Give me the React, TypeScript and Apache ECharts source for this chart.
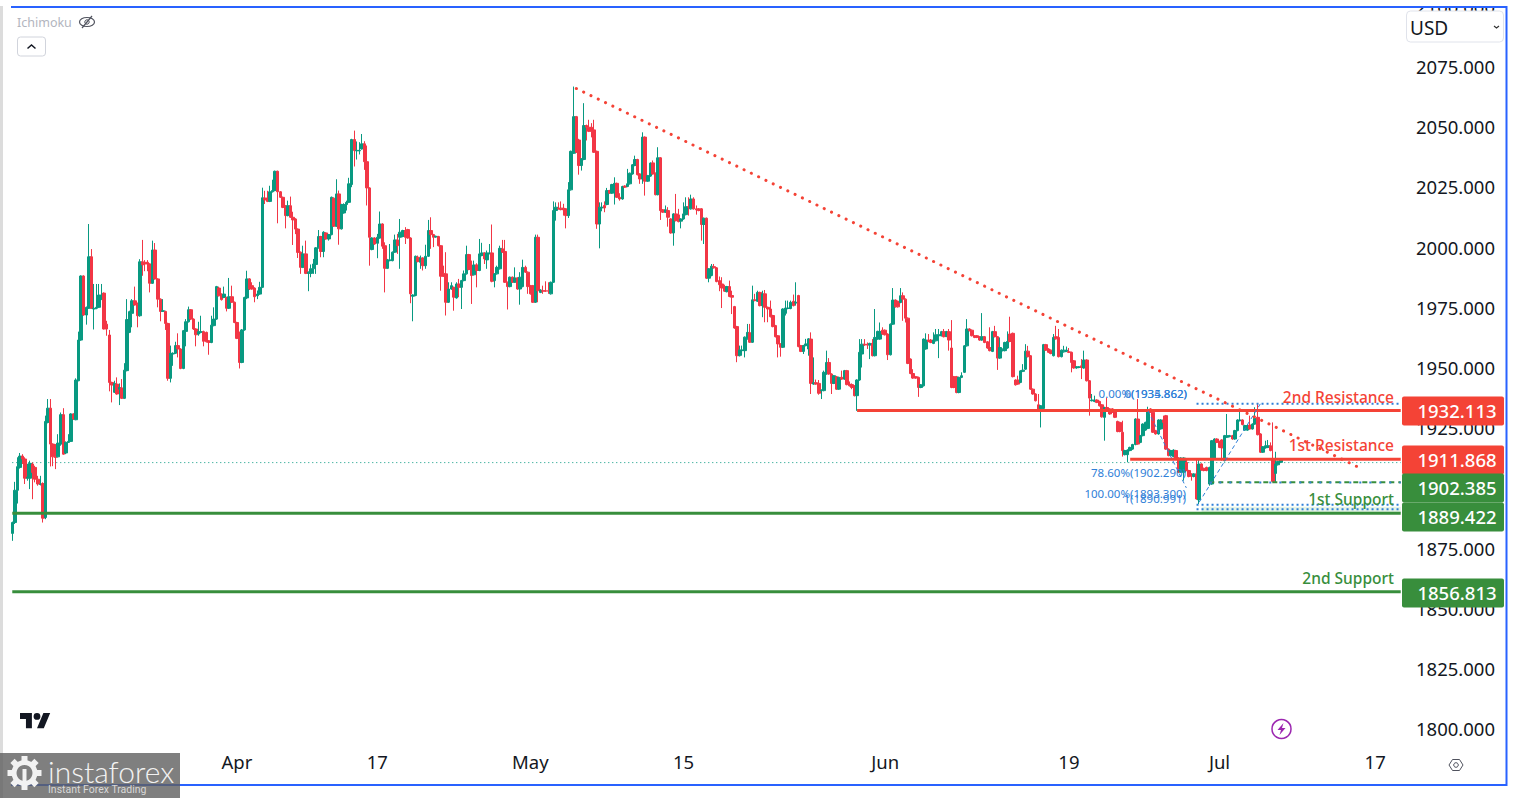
import React, { useEffect, useRef } from "react";
import * as echarts from "echarts";

// XAUUSD 4H candles: [open, close, low, high]
const marchCandles = [
[1881.1,1885.6,1878,1886],[1885.6,1899,1885,1902.5],[1899,1908.8,1893.5,1912.7],[1908.5,1913.2,1908,1914.5],[1913.2,1912,1909.9,1914],[1912,1904,1901.6,1912.7],[1904,1904.5,1903,1910],[1904,1910.2,1899.5,1911.3],[1909.9,1906.4,1895.3,1910.6],[1908.5,1903.6,1902.3,1909.2],
[1903.6,1901.6,1900.9,1905],[1901.4,1901.6,1901,1905],[1901.8,1887.4,1885.6,1902.3],[1887.7,1927.6,1887,1930],[1927.2,1933.1,1926.8,1936.9],[1933.1,1918.2,1908.9,1936.9],[1918.2,1912.9,1909,1918.5],[1912.9,1912.6,1907.8,1918.2],[1912.9,1918.6,1912.6,1922.3],[1918.2,1930.4,1917.5,1931.3],
[1930.4,1914,1913.8,1933.1],[1914.5,1918.9,1914,1919.3],[1918.9,1919.3,1918.7,1922.3],[1919.3,1930.7,1919.1,1931],[1930.7,1928.6,1928.2,1931],[1928.3,1944.8,1928.1,1945.5],[1944.5,1961.4,1944.3,1964.9],[1961.4,1988,1961.1,1988.3],[1988,1971.8,1971.5,1988.3],[1971.8,1975,1967.8,1975.3],
[1974.6,1996,1974.3,2009.6],[1996,1974.6,1974.3,1999.2],[1974.3,1974.6,1965.8,1984.7],[1974.6,1975,1974.2,1984.7],[1975,1980.1,1974.7,1984.7],[1978.4,1980.1,1978,1984.7],[1980.9,1966,1965.8,1981.2],[1968,1966,1963.2,1969.4],[1963.5,1943.8,1940.1,1965.6],[1943.8,1942.7,1935.5,1944.1],
[1939.7,1943.4,1939.4,1944.5],[1943.1,1939,1938.7,1945.9],[1941,1941.7,1934.4,1943.4],[1941.5,1937.2,1936.9,1945.2],[1937.2,1948.9,1936.9,1951.8],[1948.7,1969.9,1948.4,1978.4],[1964.6,1973.2,1964.3,1973.6],[1972.5,1977.7,1966.7,1978.4],[1977.7,1976,1975.7,1983.6],[1976,1971.5,1966.7,1977],
[1971.5,1993.9,1971.1,1995],[1993.9,1992.6,1988.1,2003],[1993.7,1993,1990,1994.6],[1993.7,1993,1990,1994.6],[1993,1985,1981.2,1993.3],[1985,1998.8,1984.7,2002.7],[1998.8,1986.8,1986.5,2001.7],[1986.8,1978.4,1975,1987.1],[1978.4,1973.3,1969.2,1978.7],[1973.3,1973.6,1973.1,1978.4],
[1973.3,1968.3,1965.6,1973.6],[1968.3,1945.5,1944.5,1968.6],[1945.5,1955.9,1943.8,1959.1],[1955.6,1955.9,1950.7,1956.3],[1955.9,1959.1,1955.6,1960.7],[1959.1,1957.7,1954.2,1964.2],[1957.7,1949.6,1949.3,1958],[1949.6,1965.3,1949.3,1965.6],[1965,1969,1958.8,1970.1],[1969,1974,1968.7,1975.3],
[1974,1970.1,1969.7,1974.3],[1970.1,1966,1965.6,1970.4],[1966,1963.6,1958.8,1966.3],[1963.9,1964.9,1963.2,1969],[1964.6,1964.9,1964.2,1971.5],[1964.9,1960.9,1958.8,1965.3],[1964.6,1960.7,1960.4,1964.9],[1961.1,1960.4,1955.3,1961.4],[1960.4,1967.6,1960.1,1971.5],[1967.4,1970.1,1967.1,1975],
[1970.1,1983.6,1969.8,1983.9],[1983,1979.8,1979.5,1983.6],[1980.5,1978.2,1977.8,1980.8],[1979.1,1980.5,1978.8,1983.6],[1979.1,1974.6,1973.3,1979.4],[1974.6,1979.4,1974.3,1987.2],[1979.4,1977.1,1976.8,1984],[1977.1,1968.7,1968.4,1977.4],
];
const aprilCandles = [
[1968.7,1962.1,1961.8,1969],[1964.6,1952.1,1949.6,1964.9],[1952.1,1965.6,1951.8,1966],[1965.6,1979.1,1965.3,1979.4],[1978.9,1986.8,1978.4,1990.2],[1986.8,1982.6,1982.2,1987.1],[1984,1982.6,1982.3,1985.4],[1983,1979.4,1977.1,1983.3],[1979.8,1980.5,1978.4,1982],[1980.5,1983.3,1980.2,1985.6],
[1983.3,2020.5,1983,2024.7],[2020.4,2019.6,2017.9,2023.4],[2020.4,2019,2018.7,2023.4],[2019,2023,2018.7,2025.5],[2023,2023.5,2022.7,2028],[2023.5,2031.5,2023.2,2031.8],[2031.5,2023,2009.9,2031.8],[2023,2020.7,2020.4,2023.3],[2020.7,2016.5,2016.2,2021],[2017.2,2013.1,2007.8,2017.5],
[2013.1,2017.2,2012.8,2019.3],[2017.2,2012.4,2012.1,2021],[2012.4,2011.3,2000.9,2014.7],[2011.7,2007.5,2005.4,2012],[2007.5,1997.8,1995.5,2007.8],[1997.9,1991.6,1988.9,1998.2],[1991.6,1997.2,1991.3,2000.6],[1997.2,1989.1,1988.8,2002.7],[1989.1,1989.6,1981.7,1989.9],[1989.1,1991,1987.5,1992.8],
[1991,1993,1988.9,1995.1],[1992.8,1999.7,1988.9,2000],[1999.7,2004.4,1999.4,2007.1],[2004.4,1998.2,1995.8,2004.7],[1998.2,2006.2,1995.8,2006.6],[2005.9,2003.4,2003.1,2006.2],[2003.4,2005.2,2002.7,2005.5],[2005.2,2020.7,2004.9,2021],[2020.3,2008.7,2008.4,2020.7],[2008.7,2022.1,2008.4,2028.2],
[2022.1,2007.6,2001,2023.5],[2007.6,2017.7,2007.3,2018],[2014.2,2017.7,2013.9,2018.2],[2017.7,2018.6,2015.2,2019.3],[2018.6,2026.3,2018.3,2028.8],[2026,2044.7,2024.9,2045],[2044.7,2040.1,2033.5,2048.4],[2040,2040.2,2036.4,2043.9],[2040,2040.2,2038.5,2043.6],[2040.8,2042.9,2040.5,2047],
[2042.9,2035.5,2032.1,2044],[2035.5,2024.6,2017.3,2042.2],[2024.6,2004.1,1992.3,2024.9],[1999,2003.8,1998.7,2004.1],[2003.8,2001.3,2001,2004.1],[2001.6,2004.1,1995.4,2005.5],[2003.8,2009.6,2003.5,2014.8],[2009.6,2000.4,1999.3,2009.9],[2000.6,1991.2,1981.2,2002],[1991.2,1994.7,1990.9,1995.1],
[1994.4,1994.7,1994.1,2001.3],[1994.4,1997.9,1994.1,1998.2],[1997.9,2003,1997.6,2005.2],[2003,2000.6,1997.2,2005.5],[2004.1,2006.2,1991,2011.7],[2004.4,2006.9,2004.1,2007.2],[2006.9,2004.1,2001.3,2008.3],[2007.3,2003.8,2003.5,2007.6],[2003.8,1980.6,1976.7,2004.1],[1979.6,1980.1,1969.2,1980.4],
[1979.9,1996.2,1979.6,1996.5],[1995.8,1994,1993.7,1996.5],[1993.7,1995.5,1991,1996.5],[1995.5,1992.3,1990.3,1995.8],[1992.3,1996.2,1991,2001],[1996.2,2006.9,1995.9,2011.3],[2006.9,2005.2,1999.3,2012.4],[2005.2,2004.1,2000,2005.5],[2004.2,2004.5,2003.9,2004.8],[2004.4,2000.6,2000.3,2004.7],
[2000.6,1987.9,1981.9,2000.9],[1989.1,1987.9,1987.6,1992.3],[1988.9,1977.1,1971.6,1997.9],[1977.1,1982.6,1976.8,1985.4],[1982.6,1984,1982.3,1985.4],[1983.3,1979.2,1973.6,1983.6],[1978.9,1984.7,1978.6,1985.4],[1984.7,1983.3,1979.2,1986.8],[1983.3,1986.1,1974.3,1986.4],[1986.1,1988.9,1985.8,1990.3],
[1988.9,1996.9,1988.6,2000.6],[1996.9,1990.7,1990.4,1997.2],[1990.7,1988.2,1976.4,1994.4],[1988.5,1992.6,1988.2,1994.4],[1992.6,1990.3,1983.3,1993.3],[1990.3,1997.2,1990,2003.4],[1996.5,1997.6,1996.2,2001.8],[1997.6,1995.1,1993,1997.9],[1994.7,1997.6,1991,1998.6],[1997.3,1997.6,1997,2001.3],
[1997.6,1985.8,1985.4,2009.4],[1986.1,1988.9,1983.3,1989.2],[1988.9,1991.6,1988.6,1992.3],[1991,1999.5,1990.7,2000.6],[1999.3,1997.9,1997.6,2003],[1998.2,1985.4,1985.1,2003],[1985.4,1983.6,1974.1,1985.7],[1983.6,1987.5,1983.3,1987.8],[1987.5,1985.4,1985.1,1987.8],[1985.4,1987.2,1985.1,1991.6],
[1987.2,1982.6,1982.3,1987.5],[1982.6,1987.5,1976.1,1989.6],[1983.6,1991.6,1983.3,1994.8],[1991.6,1989.6,1989.3,1992.3],[1989.6,1983.6,1980.6,1989.9],
];
const mayCandles = [
[1984,1980.6,1980.3,1984.3],[1984,1977.1,1976.8,1984.3],[1977.1,2004.1,1976.8,2005.2],[2004.1,1981.9,1977.1,2005.2],[1981.2,1982.2,1980.9,1982.5],[1981.9,1981.7,1980.6,1984],[1981.9,1981.7,1981.4,1985.8],[1981.9,1981.7,1980.6,1985.4],[1980.6,1985.4,1980.3,1985.7],[1985.4,2015.2,1985.1,2019],
[2015.2,2016.6,2011,2018.6],[2016.2,2015.9,2015.6,2018.6],[2016.2,2015.6,2015.3,2019],[2016.2,2015.5,2013.1,2018],[2015.9,2013.1,2007.8,2016.2],[2013.1,2023.8,2012.1,2027],[2023.8,2039.8,2023.5,2040.1],[2039,2054.2,2038.7,2066.7],[2054.2,2039.4,2039.1,2054.5],[2044.5,2033.9,2030.1,2045],
[2033.9,2036.7,2031.8,2037],[2036.4,2050.5,2036.1,2059.8],[2050.5,2049.8,2044.3,2050.9],[2049.8,2048.1,2047.8,2052.9],[2049.8,2048.1,2045.6,2051.5],[2048.7,2039.4,2039.1,2052.9],[2039.8,2009.6,2007.6,2040.1],[2009.6,2016.6,1999.5,2018.6],[2016.3,2016.6,2014.9,2018.6],[2017.3,2016.3,2014.5,2019],
[2017.7,2023.5,2017.4,2024.6],[2023.5,2022.4,2022.1,2023.8],[2022.4,2026,2022.1,2026.3],[2025.2,2026.5,2017.7,2029],[2026.5,2020.7,2020.4,2026.8],[2020.7,2020,2019.3,2022.4],[2020,2025.2,2019.7,2025.5],[2025.4,2024.9,2024.6,2025.7],[2025.2,2026.3,2024.9,2032.5],[2026.3,2030.7,2026,2031],
[2030.4,2034.2,2030.1,2034.5],[2033.9,2036.4,2033.6,2038],[2036.4,2030.1,2029.8,2036.7],[2030.4,2028.3,2026.3,2030.7],[2028.3,2045.7,2026.3,2047.7],[2045.7,2027.4,2021.4,2046],[2027.4,2029.7,2027.1,2030],[2029.5,2034.9,2029.2,2035.2],[2035,2030.4,2030.1,2036],[2030.7,2021.8,2021.5,2031],
[2021.8,2037.1,2021.5,2041.5],[2037.1,2015.2,2011.3,2037.4],[2015.5,2014.5,2014.2,2015.8],[2014.5,2015.5,2014.2,2017.3],[2015.2,2012.4,2008.5,2016.6],[2011.7,2005.9,2005.6,2012],[2005.9,2013.8,2000.6,2014.1],[2013.8,2011,2010.7,2022.1],[2013.4,2010.6,2010.3,2015.9],[2010.8,2011.7,2007.8,2012],
[2011.7,2013.8,2011.4,2018.6],[2013.5,2016.8,2013.2,2020.7],[2016.8,2016.6,2013.1,2020.7],[2015.9,2020,2015.6,2021.8],[2020,2015.9,2015.6,2020.7],[2015.9,2015.5,2013.5,2017.3],[2015.9,2015.2,2014.9,2016.2],[2015.9,2009.4,2002.7,2016.2],[2009.4,2012,2001.3,2012.3],[2012,1987.1,1986.8,2012.3],
[1987.1,1991,1985.4,1991.3],[1988.2,1992.1,1987.9,1993],[1991.9,1991.4,1991.1,1993],[1991.4,1985.7,1985.4,1991.7],[1986.1,1984.4,1981.7,1987.8],[1984.7,1983,1974.7,1987.5],[1983.6,1981.7,1981.4,1984.4],[1981.5,1983.6,1981.2,1983.9],[1983.6,1979.5,1979.2,1986.1],[1979.9,1979.2,1972.2,1981.9],
[1975.3,1966.4,1966.1,1975.6],[1967,1954.9,1952.2,1967.3],[1954.9,1957.3,1954.6,1959.1],[1957,1957.3,1954.9,1959.1],[1957,1962.6,1954.2,1962.9],[1961.9,1964.6,1961.6,1968.1],[1964.4,1960.5,1960.2,1968.1],[1960.5,1978.1,1960.2,1984],[1978.1,1977.8,1977.5,1980.6],[1977.5,1981.2,1977.2,1981.9],
[1981.2,1975.7,1975.4,1981.5],[1975.7,1980.6,1970.9,1981.9],[1980.6,1975,1968.8,1982.2],[1975,1974.3,1968.8,1975.3],[1974.3,1971.1,1970.8,1977.8],[1971.6,1967,1966.7,1971.9],[1967.4,1962.8,1962.5,1967.7],[1963.2,1959.8,1954.2,1963.5],[1959.8,1958.4,1954.5,1960.1],[1958.4,1974.3,1958.1,1974.6],
[1972.5,1974.7,1971.6,1977.8],[1974.5,1974.7,1974.2,1977.8],[1974.5,1977.1,1974.2,1977.8],[1977.5,1975.7,1975.4,1980.3],[1976.8,1977.1,1975.7,1985.4],[1979.9,1958.7,1958.4,1980.2],[1959.1,1956.7,1956.4,1959.4],[1956.7,1959.1,1955.6,1959.4],[1959.1,1959.8,1958.8,1961.9],[1957.7,1961.9,1954.9,1962.2],
[1961.8,1943.4,1939,1964.6],[1943.1,1943.7,1942.8,1954.2],[1943.7,1943.1,1942.8,1945],[1943.4,1939.3,1938.7,1944.8],[1940.4,1940.6,1936.9,1940.9],[1940.4,1948,1940.1,1948.7],[1947.3,1952.1,1947,1957],[1952.1,1947.3,1947,1953.9],[1947.3,1943.4,1939,1947.6],[1943.4,1946.6,1943.1,1946.9],
[1946.2,1941,1940.7,1946.5],[1941,1945.9,1940.7,1946.2],[1945.9,1945.2,1944.9,1948.7],[1945.2,1948.7,1944.9,1949],[1948.7,1942.9,1942.6,1949],[1943.1,1942.4,1942.1,1944.2],[1942.9,1941.7,1941,1943.4],[1942.4,1938.3,1938,1942.7],[1938.3,1944.8,1932,1945.1],
];
const juneCandles = [
[1944.8,1956.3,1944.5,1961.8],[1955.6,1959.7,1950,1961.8],[1959.7,1959.3,1959,1961.8],[1959.7,1959.3,1957.7,1960.4],[1959.3,1960,1953.5,1960.3],[1960,1954.9,1954.6,1961.8],[1954.9,1962.5,1954.6,1974.3],[1961.8,1965,1961.5,1965.3],[1961.8,1965,1961.5,1968.7],[1965.5,1963.9,1963.6,1966.7],
[1965.5,1963.6,1963.3,1965.8],[1963.9,1955.3,1953.1,1964.2],[1955.3,1968,1955,1968.3],[1968,1978,1967.7,1983],[1978,1975.2,1974.9,1978.3],[1977.5,1975.2,1974.9,1977.8],[1977,1979.8,1976.7,1983],[1979.8,1978.4,1969.4,1981.2],[1978.4,1970.5,1968.7,1978.7],[1970.5,1951.7,1951.4,1970.8],
[1953.5,1947.5,1947.2,1953.8],[1947.5,1945.6,1945.3,1949.3],[1946.2,1945.6,1945.3,1946.5],[1945.9,1941.7,1937.8,1946.2],[1941.7,1942.8,1941.4,1943.1],[1942.4,1961.8,1942.1,1962.1],[1957.7,1961.4,1957.4,1964.2],[1961.4,1960.8,1960.5,1963.9],[1961.4,1960.4,1960.1,1961.8],[1960,1961.4,1959.7,1964.6],
[1961.1,1963.6,1960.8,1966],[1963.2,1963.6,1953.9,1966],[1963.2,1964.9,1962.9,1965.2],[1964.9,1962.8,1962.5,1966],[1962.9,1964.9,1962.6,1965.2],[1964.9,1961.4,1957,1966],[1958.1,1941.7,1941.4,1969.7],[1946.2,1941.7,1941.4,1946.5],[1946.2,1939.6,1939.3,1946.5],[1939.6,1945.9,1939.3,1946.2],
[1945.9,1946.6,1945.6,1948],[1948,1959,1947.7,1959.3],[1959,1966,1958.7,1970.1],[1966,1965.3,1965,1966.3],[1965.5,1963.2,1962.9,1965.8],[1963.2,1962.5,1962.2,1963.5],[1963.2,1962.5,1962.2,1963.5],[1962.8,1961.4,1961.1,1963.1],[1961.4,1962.8,1961.1,1972.6],[1962.8,1960.4,1960.1,1963.1],
[1960.7,1958.1,1957.8,1961],[1958.3,1957,1956.7,1966.7],[1956.7,1964.9,1956.4,1965.2],[1964.9,1962.8,1962.5,1967.3],[1962.8,1953.9,1949,1963.1],[1953.9,1958.3,1953.6,1962.5],[1957,1957.6,1956.7,1957.9],[1957,1960.4,1956.7,1960.7],[1958.1,1960.8,1957.8,1965],[1963.9,1960.8,1960.5,1971.1],
[1964.2,1946.2,1945.9,1964.5],[1944.8,1942.8,1942.5,1945.1],[1944.8,1943.1,1942.8,1946.6],[1943.8,1948.6,1943.5,1948.9],[1948.4,1948.9,1948.1,1951.4],[1949.3,1956.8,1949,1959.7],[1956.8,1954.5,1954.2,1959],[1954.9,1941,1940.7,1955.2],[1941,1939,1938.7,1941.3],[1939,1936.2,1935.9,1939.3],
[1934.5,1932,1931.7,1939],[1933,1934.1,1925.1,1934.4],[1933,1959.5,1932.7,1959.8],[1959.5,1957.2,1956.9,1959.8],[1957.7,1956.3,1956,1958],[1957.2,1955.8,1955.5,1957.5],[1954.9,1962.5,1954.6,1963.9],[1962.8,1961.9,1961.6,1967.3],[1962.5,1954.5,1954.2,1966],[1954.5,1957.2,1954.2,1957.5],
[1956.5,1957.2,1956.2,1959],[1956.7,1957.2,1956.4,1958.7],[1956.5,1956.3,1956,1958.1],[1956.3,1952.1,1948,1956.6],[1952.8,1949.8,1949.5,1953.1],[1949.8,1950.3,1949.5,1950.6],[1950,1950.3,1949.7,1950.6],[1950.7,1950,1945.2,1953.5],[1949.8,1953.1,1949.5,1957],[1953.1,1944.5,1944.2,1953.4],
[1944.5,1937.3,1930,1944.8],[1936.2,1936.5,1935.9,1939],[1935.9,1936.5,1935.6,1938.3],[1936.5,1935.5,1935.2,1936.8],[1935.9,1934.1,1933.8,1936.2],[1934.5,1929.5,1929.2,1934.8],[1929.3,1933.4,1919.6,1933.7],[1933.4,1932,1931.7,1937.6],[1932.8,1930.7,1930.4,1933.1],[1932.8,1931.4,1931.1,1933.1],
[1931.8,1929.3,1929,1932.1],[1927.6,1923.4,1923.1,1927.9],[1927.2,1923.4,1923.1,1927.5],[1923.1,1915.5,1913,1927.9],[1913.8,1915.5,1913.5,1915.8],[1913.8,1915.7,1910.6,1916],[1915.5,1916.8,1915.2,1917.1],[1916.1,1918,1915.8,1918.3],[1918,1928.6,1917.7,1928.9],[1928.6,1918.2,1917.9,1936.9],
[1918.9,1921.7,1918.6,1922],[1921.7,1926.5,1921.4,1926.8],[1924,1927.2,1923.7,1927.5],[1924.7,1932.4,1924.4,1933.7],[1932.8,1931.4,1931.1,1933.1],[1931.4,1923.1,1922.8,1931.7],[1923.8,1922.4,1922.1,1924.1],[1922.4,1928.2,1922.1,1928.5],[1924.5,1928.2,1924.2,1928.5],[1928.2,1927.2,1920.3,1930],
[1930,1916.1,1915.8,1930.3],[1916.1,1913.4,1913.1,1916.4],[1913.4,1915.5,1913.1,1915.8],[1913,1915.7,1912.7,1916],[1915.5,1912,1911.7,1915.8],[1912.4,1906.5,1906.2,1912.7],[1906.5,1912.4,1906.2,1912.7],[1906.5,1912.4,1903,1912.7],[1910.6,1907.2,1906.9,1912],[1907.2,1904.7,1904.4,1907.5],
[1905.8,1905.3,1903,1906.1],
];
const julyCandles = [
[1904.7,1905.8,1904.4,1906.1],[1905.8,1895.4,1895.1,1912.4],[1895,1909.9,1893.3,1912.4],[1909.9,1907.4,1907.1,1910.2],[1908.1,1907.2,1906.9,1908.4],[1908.5,1907.2,1906.9,1908.8],[1901.6,1908.5,1900.9,1908.8],[1901.6,1919.6,1901.3,1919.9],[1912,1920.3,1911.7,1920.6],[1920.3,1918.9,1918.6,1920.6],
[1919.3,1916.8,1916.5,1919.6],[1919.9,1916.6,1911.3,1920.2],[1911.3,1921.7,1911,1922],[1921,1921.7,1920.7,1930.7],[1921.3,1921.7,1921,1922],[1921.7,1920.3,1920,1922],[1920.3,1923.8,1920,1924.1],[1923.8,1928.2,1923.5,1928.5],[1927.9,1928.2,1927.6,1932.4],[1928.2,1926.3,1926,1928.5],
[1924,1925.9,1923.7,1926.2],[1924,1925.9,1923.7,1926.2],[1926.1,1924.5,1924.2,1930],[1924.5,1926.5,1924.2,1926.8],[1926.5,1928.9,1926.2,1933.5],[1929.3,1922.1,1921.8,1934.9],[1922.4,1914.8,1914.5,1922.7],[1914.8,1917.1,1914.5,1917.4],[1916.6,1917.5,1916.3,1919.6],[1916.8,1917.5,1916.5,1919.9],
[1917.5,1915.5,1915.2,1918.9],[1912,1902.7,1902.4,1927.2],[1906,1909.9,1902.3,1915],[1909.6,1911,1909.3,1911.3],[1910.6,1911.6,1910.3,1912.4],
];

const totalCategories = 545;
const xTickLabels: [string, number][] = [["Apr", 88], ["17", 143], ["May", 203], ["15", 263], ["Jun", 342], ["19", 414], ["Jul", 473], ["17", 534]];
const yTicksMin = 1775;
const yTicksMax = 2100;
const lastPrice = 1910.5;

const resistance1 = 1911.868;
const resistance2 = 1932.113;
const support1 = 1902.385;
const support2 = 1889.422;
const support3 = 1856.813;

const RED = "#f44336";
const GREEN = "#388e3c";
const BLUE = "#2f80d8";
const FONT = '"Noto Sans", sans-serif';

const candles = [...marchCandles, ...aprilCandles, ...mayCandles, ...juneCandles, ...julyCandles];
const categories = Array.from({ length: totalCategories }, (_, i) => String(i));
const tickMap = new Map(xTickLabels.map(([t, i]) => [String(i), t]));

echarts.graphic.registerShape("tvLogo", echarts.graphic.extendPath("M14 22H7V11H0V4h14v18zM28 22h-8l7.5-18h8L28 22zM16 8a4 4 0 1 0 8 0a4 4 0 1 0 -8 0z", {}));
echarts.graphic.registerShape("bolt", echarts.graphic.extendPath("M6 0L0 7h3.5L2 12l6-7H4.5L6 0z", {}));

function seg(points: [number, number][], color: string, width: number, type: any, z = 3, cap: any = "butt") {
  return {
    type: "line", data: points, showSymbol: false, symbol: "none", silent: true, z,
    lineStyle: { color, width, type, cap },
  };
}

function tag(value: number, y: number, fill: string) {
  return [
    { type: "rect", z: 120, shape: { x: 1402, y: y - 14.5, width: 102, height: 29, r: 2 }, style: { fill } },
    { type: "text", z: 121, x: 1457, y: y - 1, style: { text: value.toFixed(3), fill: "#fff", font: `500 18.5px ${FONT}`, align: "center", verticalAlign: "middle" } },
  ];
}
function note(text: string, x: number, y: number, fill: string, size = 15.5, weight = 500, align = "right") {
  return { type: "text", z: 110, x, y, style: { text, fill, font: `${weight} ${size}px ${FONT}`, align, verticalAlign: "middle" } };
}

const gearTeeth = Array.from({ length: 8 }, (_, k) => ({
  type: "rect", z: 131, x: 24.5, y: 773, rotation: (k * Math.PI) / 4,
  shape: { x: -3, y: -17, width: 6, height: 7 }, style: { fill: "#f2f2f2" },
}));

export default function App() {
  const ref = useRef<HTMLDivElement>(null);
  useEffect(() => {
    document.body.style.margin = "0";
    document.body.style.background = "#fff";
    const chart = echarts.init(ref.current!, undefined, { renderer: "svg" });
    chart.setOption({
      animation: false,
      backgroundColor: "#fff",
      grid: { left: 11, right: 112, top: 6.4, height: 782.4, outerBoundsMode: "none" },
      xAxis: {
        type: "category", data: categories, boundaryGap: true, offset: -37,
        axisLine: { show: false }, axisTick: { show: false }, splitLine: { show: false },
        axisLabel: {
          margin: 0, color: "#131722", fontSize: 18.5, fontFamily: FONT, hideOverlap: false,
          interval: (_: number, v: string) => tickMap.has(v),
          formatter: (v: string) => tickMap.get(v) ?? "",
        },
      },
      yAxis: {
        type: "value", position: "right", min: yTicksMin, max: yTicksMax, interval: 25, scale: true,
        axisLine: { show: false }, axisTick: { show: false }, splitLine: { show: false },
        axisLabel: {
          margin: 14, color: "#131722", fontSize: 18.5, fontFamily: FONT,
          formatter: (v: number) => (v < 1800 ? "" : v.toFixed(3)),
        },
      },
      series: [
        seg([[0, lastPrice], [544, lastPrice]], "#089981", 1, [1, 3], 1),
        {
          type: "candlestick", data: candles, barWidth: 3, z: 4, silent: true,
          itemStyle: { color: "#089981", color0: "#f23645", borderColor: "#089981", borderColor0: "#f23645", borderWidth: 1 },
        },
        seg([[330.5, resistance2], [544, resistance2]], RED, 3, "solid", 5),
        seg([[438, resistance1], [544, resistance1]], RED, 3, "solid", 5),
        seg([[0, support2], [544, support2]], GREEN, 3, "solid", 5),
        seg([[0, support3], [544, support3]], GREEN, 3, "solid", 5),
        seg([[469, support1], [544, support1]], GREEN, 2, [5, 4], 5),
        seg([[469, 1902.2], [544, 1902.2]], BLUE, 2, [2, 8], 6),
        seg([[464, 1934.9], [544, 1934.9]], BLUE, 2, [2, 3], 5),
        seg([[464, 1893], [544, 1893]], BLUE, 2, [2, 3], 5),
        {
          ...seg([[464, 1891.1], [544, 1891.1]], BLUE, 2, [2, 3], 5),
          markArea: {
            silent: true, itemStyle: { color: "rgba(76,175,80,0.15)" },
            data: [[{ coord: ["466", 1892.2] }, { coord: ["544", 1889.7] }]],
          },
        },
        seg([[464.6, 1894], [488.5, 1934.9]], BLUE, 1, [4, 3], 6),
        seg([[445.4, 1932], [459.9, 1900]], BLUE, 1, [4, 3], 6),
        seg([[220.7, 2065.9], [526.5, 1908.8]], RED, 3, [0.1, 8], 7, "round"),
      ],
      graphic: {
        elements: [
          { type: "rect", z: 100, shape: { x: 0, y: 0, width: 3, height: 798 }, style: { fill: "#dcdcdc" } },
          { type: "rect", z: 100, shape: { x: 0, y: 0, width: 1514, height: 6 }, style: { fill: "#fff" } },
          { type: "polyline", z: 101, shape: { points: [[11, 7], [1506.5, 7], [1506.5, 785], [11, 785]] }, style: { fill: "none", stroke: "#2962ff", lineWidth: 2 } },

          note("Ichimoku", 17, 22, "#b2b5be", 12.5, 400, "left"),
          { type: "ellipse", z: 110, shape: { cx: 87, cy: 22, rx: 7.5, ry: 4.5 }, style: { fill: "none", stroke: "#50535e", lineWidth: 1.2 } },
          { type: "circle", z: 110, shape: { cx: 87, cy: 22, r: 2.2 }, style: { fill: "none", stroke: "#50535e", lineWidth: 1 } },
          { type: "line", z: 110, shape: { x1: 82, y1: 28, x2: 92, y2: 16 }, style: { stroke: "#50535e", lineWidth: 1.2 } },
          { type: "rect", z: 110, shape: { x: 17.5, y: 37, width: 28, height: 19, r: 3 }, style: { fill: "#fff", stroke: "#d1d4dc", lineWidth: 1 } },
          { type: "polyline", z: 111, shape: { points: [[27.5, 48.5], [31.5, 45], [35.5, 48.5]] }, style: { fill: "none", stroke: "#131722", lineWidth: 1.5 } },

          { type: "rect", z: 110, shape: { x: 1406.5, y: 11, width: 97, height: 31, r: 4 }, style: { fill: "#fff", stroke: "#e0e3eb", lineWidth: 1 } },
          note("USD", 1410, 28, "#131722", 19, 400, "left"),
          { type: "polyline", z: 111, shape: { points: [[1494, 26], [1496.5, 28], [1499, 26]] }, style: { fill: "none", stroke: "#333", lineWidth: 1.2 } },

          note("2nd Resistance", 1394, 397, RED),
          note("1st Resistance", 1394, 445, RED),
          note("1st Support", 1394, 499, GREEN),
          note("2nd Support", 1394, 578, GREEN),

          note("0.00%(1934.862)", 1187, 393, BLUE, 11.5, 400),
          note("0(1935.862)", 1187, 393, BLUE, 11.5, 400),
          note("78.60%(1902.290)", 1186, 472, BLUE, 11.5, 400),
          note("100.00%(1893.300)", 1186, 493, BLUE, 11.5, 400),
          note("1(1890.991)", 1186, 498, BLUE, 11.5, 400),

          ...tag(resistance2, 411, RED),
          ...tag(resistance1, 460, RED),
          ...tag(support1, 488, GREEN),
          ...tag(support2, 517, GREEN),
          ...tag(support3, 593, GREEN),

          { type: "tvLogo", z: 110, x: 20, y: 709.6, scaleX: 0.85, scaleY: 0.85, style: { fill: "#131722" } },
          { type: "circle", z: 110, shape: { cx: 1281.5, cy: 729, r: 9.5 }, style: { fill: "#fff", stroke: "#9c27b0", lineWidth: 1.5 } },
          { type: "bolt", z: 111, x: 1277.5, y: 723, style: { fill: "#9c27b0" } },
          { type: "polygon", z: 110, shape: { points: [[1449, 765], [1452.5, 759.5], [1459.5, 759.5], [1463, 765], [1459.5, 770.5], [1452.5, 770.5]] }, style: { fill: "none", stroke: "#50535e", lineWidth: 1 } },
          { type: "circle", z: 110, shape: { cx: 1456, cy: 765, r: 2.3 }, style: { fill: "none", stroke: "#50535e", lineWidth: 1 } },

          { type: "rect", z: 130, shape: { x: 0, y: 753, width: 180, height: 45 }, style: { fill: "rgba(95,95,95,0.8)" } },
          ...gearTeeth,
          { type: "ring", z: 131, shape: { cx: 24.5, cy: 773, r: 13, r0: 8 }, style: { fill: "#f2f2f2" } },
          { type: "rect", z: 131, shape: { x: 22.5, y: 769, width: 4, height: 18 }, style: { fill: "#f2f2f2" } },
          { type: "text", z: 131, x: 48, y: 771, style: { text: "instaforex", fill: "#f2f2f2", font: "300 30px Lato, sans-serif", align: "left", verticalAlign: "middle" } },
          { type: "text", z: 131, x: 48, y: 789, style: { text: "Instant Forex Trading", fill: "#d8d8d8", font: "10.5px Roboto, sans-serif", align: "left", verticalAlign: "middle" } },
        ],
      },
    });
    return () => chart.dispose();
  }, []);
  return <div ref={ref} style={{ position: "fixed", left: 0, top: 0, width: 1514, height: 798 }} />;
}
